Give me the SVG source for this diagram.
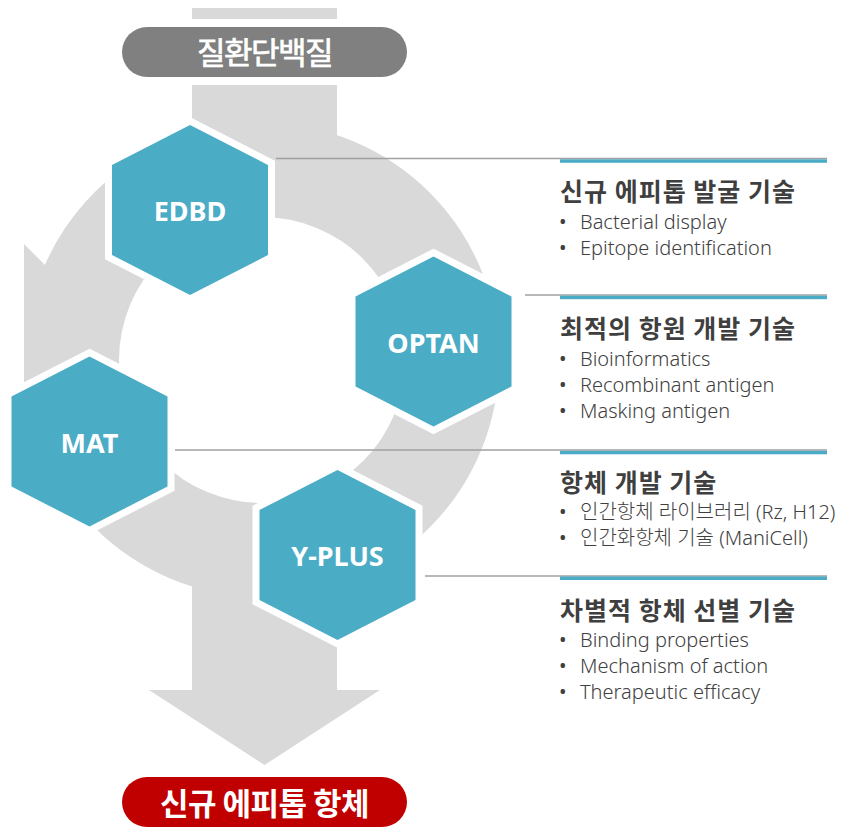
<svg xmlns="http://www.w3.org/2000/svg" xmlns:xlink="http://www.w3.org/1999/xlink" width="842" height="827" viewBox="0 0 842 827">
<style>
.flow{fill:#D9D9D9}
.hex{fill:#4BACC6;stroke:#FFFFFF;stroke-width:14;stroke-linejoin:miter;paint-order:stroke}
.hl{font-family:"Noto Sans","Open Sans",sans-serif;font-weight:bold;font-size:27px;fill:#FFFFFF;text-anchor:middle}
.conn{stroke:#A0A0A0;stroke-width:1.5;fill:none}
.bar{fill:#4BACC6}
.h{font-family:"Noto Sans CJK KR","Noto Sans",sans-serif;font-weight:bold;font-size:25px;letter-spacing:1px;fill:#3F3F3F}
.b{font-family:"Noto Sans","Noto Sans CJK KR",sans-serif;font-weight:300;font-size:20px;fill:#404040}
.dot{font-family:"Noto Sans",sans-serif;font-size:20px;fill:#404040}
.pill{stroke:#FFFFFF;stroke-width:16;paint-order:stroke}
.pt{font-family:"Noto Sans CJK KR","Noto Sans",sans-serif;font-size:31px;fill:#FFFFFF;text-anchor:middle}
</style>
<defs>
<polygon id="hexshape" points="0,-85 78,-45 78,45 0,85 -78,45 -78,-45"/>
</defs>
<g id="flow">
<path class="flow" fill-rule="evenodd" d="M25,360 A237,237 0 1,1 499,360 A237,237 0 1,1 25,360 Z M119,360 A143,143 0 1,0 405,360 A143,143 0 1,0 119,360 Z"/>
<rect class="flow" x="192" y="8" width="145" height="170"/>
<rect class="flow" x="192" y="540" width="145" height="150"/>
<polygon class="flow" points="149,690 380,690 264.5,765"/>
<polygon class="flow" points="45,265 24,244 24,420 100,420 100,300"/>
</g>
<g id="connectors">
<line class="conn" x1="276" y1="158.5" x2="827" y2="158.5"/>
<rect class="bar" x="560" y="159.3" width="267" height="3.5"/>
<line class="conn" x1="525" y1="295" x2="827" y2="295"/>
<rect class="bar" x="560" y="295.7" width="267" height="3.5"/>
<line class="conn" x1="175" y1="450" x2="827" y2="450"/>
<rect class="bar" x="560" y="450.8" width="267" height="3.5"/>
<line class="conn" x1="425" y1="576" x2="827" y2="576"/>
<rect class="bar" x="560" y="576.5" width="267" height="3.5"/>
</g>
<g id="top-pill">
<rect class="pill" x="122" y="27" width="285" height="50" rx="25" fill="#808080"/>
<text class="pt" x="264.5" y="64" stroke="#FFFFFF" stroke-width="0.7" letter-spacing="-1.5">질환단백질</text>
</g>
<g id="bottom-pill">
<rect class="pill" x="122" y="777" width="285" height="50" rx="25" fill="#C00000"/>
<text class="pt" x="264.5" y="815" font-size="32" font-weight="bold" letter-spacing="-0.5">신규 에피톱 항체</text>
</g>
<g id="EDBD" transform="translate(190,210)">
<use xlink:href="#hexshape" class="hex"/>
<text class="hl" x="0" y="11">EDBD</text>
</g>
<g id="OPTAN" transform="translate(433.5,341.5)">
<use xlink:href="#hexshape" class="hex"/>
<text class="hl" x="0" y="11">OPTAN</text>
</g>
<g id="MAT" transform="translate(89.5,441.5)">
<use xlink:href="#hexshape" class="hex"/>
<text class="hl" x="0" y="11">MAT</text>
</g>
<g id="Y-PLUS" transform="translate(337.5,555)">
<use xlink:href="#hexshape" class="hex"/>
<text class="hl" x="0" y="11">Y-PLUS</text>
</g>
<g id="block1">
<text class="h" x="560" y="201">신규 에피톱 발굴 기술</text>
<text class="dot" x="559" y="229">•</text><text class="b" x="580" y="229">Bacterial display</text>
<text class="dot" x="559" y="255">•</text><text class="b" x="580" y="255">Epitope identification</text>
</g>
<g id="block2">
<text class="h" x="560" y="338">최적의 항원 개발 기술</text>
<text class="dot" x="559" y="366">•</text><text class="b" x="580" y="366">Bioinformatics</text>
<text class="dot" x="559" y="392">•</text><text class="b" x="580" y="392">Recombinant antigen</text>
<text class="dot" x="559" y="418">•</text><text class="b" x="580" y="418">Masking antigen</text>
</g>
<g id="block3">
<text class="h" x="560" y="492">항체 개발 기술</text>
<text class="dot" x="559" y="519">•</text><text class="b" x="580" y="519">인간항체 라이브러리 (Rz, H12)</text>
<text class="dot" x="559" y="545">•</text><text class="b" x="580" y="545">인간화항체 기술 (ManiCell)</text>
</g>
<g id="block4">
<text class="h" x="560" y="620">차별적 항체 선별 기술</text>
<text class="dot" x="559" y="647">•</text><text class="b" x="580" y="647">Binding properties</text>
<text class="dot" x="559" y="673">•</text><text class="b" x="580" y="673">Mechanism of action</text>
<text class="dot" x="559" y="699">•</text><text class="b" x="580" y="699">Therapeutic efficacy</text>
</g>
</svg>
